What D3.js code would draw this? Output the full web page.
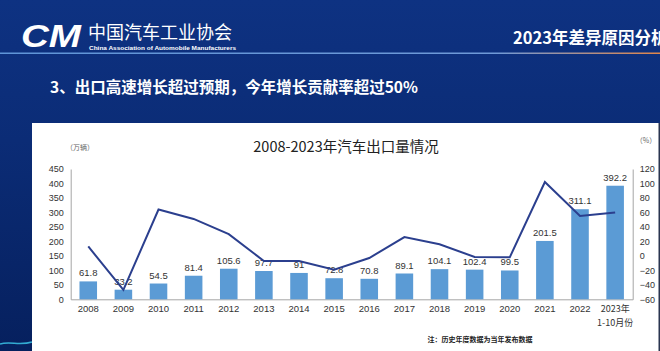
<!DOCTYPE html>
<html>
<head>
<meta charset="utf-8">
<script src="https://cdn.jsdelivr.net/npm/d3@7"></script>
<style>
  html, body { margin: 0; padding: 0; background: #0b2c74; }
  svg { display: block; }
</style>
</head>
<body>
<div id="chart"></div>
<script>
// Export volume (10k vehicles) and YoY growth (%), 2008 – 2023 Jan–Oct
const years   = ['2008','2009','2010','2011','2012','2013','2014','2015','2016','2017','2018','2019','2020','2021','2022','2023'];
const volume  = [61.8, 33.2, 54.5, 81.4, 105.6, 97.7, 91, 72.8, 70.8, 89.1, 104.1, 102.4, 99.5, 201.5, 311.1, 392.2];
const growth  = [13, -47, 64, 51, 30, -7, -7, -19, -3, 26, 16, -1.5, -2, 102, 55, 60];
const leftTicks  = [0, 50, 100, 150, 200, 250, 300, 350, 400, 450];
const rightTicks = [-60, -40, -20, 0, 20, 40, 60, 80, 100, 120];

const W = 660, H = 351;
const CJK = "'Noto Sans CJK SC', 'Noto Sans', sans-serif";
const SANS = "'Liberation Sans', Arial, sans-serif";
const BAR = '#5b9bd5';
const LINE = '#2b3f8e';
const AXIS = '#a6a6a6';

const svg = d3.select('#chart').append('svg')
  .attr('width', W).attr('height', H)
  .attr('viewBox', `0 0 ${W} ${H}`);

// --- slide background ---
const defs = svg.append('defs');
const bg = defs.append('linearGradient').attr('id', 'bg').attr('x1', 0).attr('y1', 0).attr('x2', 0).attr('y2', 1);
bg.append('stop').attr('offset', '0%').attr('stop-color', '#0e3282');
bg.append('stop').attr('offset', '40%').attr('stop-color', '#0b2c76');
bg.append('stop').attr('offset', '100%').attr('stop-color', '#06205e');
svg.append('rect').attr('width', W).attr('height', H).attr('fill', 'url(#bg)');

const rule = defs.append('linearGradient').attr('id', 'rule');
rule.append('stop').attr('offset', '0%').attr('stop-color', '#5f95d8');
rule.append('stop').attr('offset', '75%').attr('stop-color', '#6f9ad8');
rule.append('stop').attr('offset', '100%').attr('stop-color', '#e0864a');
svg.append('rect').attr('x', 0).attr('y', 52.5).attr('width', W).attr('height', 1.5).attr('fill', 'url(#rule)');

// cyan glow bottom-left
svg.append('path').attr('d', 'M0,344 C10,341 20,346 32,342').attr('stroke', '#3fd0f0')
  .attr('stroke-width', 1.5).attr('fill', 'none').attr('opacity', 0.8);

// header: logo + association name
svg.append('text').attr('x', 21).attr('y', 47)
  .attr('font-family', SANS).attr('font-size', 32).attr('font-weight', 700)
  .attr('font-style', 'italic').attr('fill', '#fff')
  .attr('textLength', 60).attr('lengthAdjust', 'spacingAndGlyphs')
  .text('CM');
svg.append('text').attr('x', 88).attr('y', 39)
  .attr('font-family', CJK).attr('font-size', 18).attr('fill', '#fff')
  .text('中国汽车工业协会');
svg.append('text').attr('x', 89).attr('y', 50)
  .attr('font-family', SANS).attr('font-size', 5.2).attr('font-weight', 700).attr('fill', '#fff')
  .attr('textLength', 147).attr('lengthAdjust', 'spacingAndGlyphs')
  .text('China Association of Automobile Manufacturers');
svg.append('text').attr('x', 513).attr('y', 44)
  .attr('font-family', CJK).attr('font-size', 16.5).attr('font-weight', 700).attr('fill', '#fff')
  .text('2023年差异原因分析');
svg.append('text').attr('x', 50).attr('y', 93)
  .attr('font-family', CJK).attr('font-size', 15.5).attr('font-weight', 700).attr('fill', '#fff')
  .text('3、出口高速增长超过预期，今年增长贡献率超过50%');

// --- white chart panel ---
svg.append('rect').attr('x', 32).attr('y', 123).attr('width', 627).attr('height', H - 123)
  .attr('fill', '#fff');
svg.append('rect').attr('x', 658.5).attr('y', 123).attr('width', 1.5).attr('height', H - 123)
  .attr('fill', '#2a3550');

svg.append('text').attr('x', 346).attr('y', 152).attr('text-anchor', 'middle')
  .attr('font-family', CJK).attr('font-size', 14.5).attr('fill', '#222')
  .text('2008-2023年汽车出口量情况');

// --- scales ---
const x = d3.scaleBand().domain(years).range([70.7, 632.7]).paddingInner(0.5).paddingOuter(0.25);
const y = d3.scaleLinear().domain([0, 450]).range([299.3, 169]);
const y2 = d3.scaleLinear().domain([-60, 120]).range([299.3, 169]);

// axes
const gl = svg.append('g').attr('transform', `translate(70.7,0)`)
  .call(d3.axisLeft(y).tickValues(leftTicks).tickSize(0).tickPadding(7));
const gr = svg.append('g').attr('transform', `translate(632.7,0)`)
  .call(d3.axisRight(y2).tickValues(rightTicks).tickSize(0).tickPadding(7));
const gb = svg.append('g').attr('transform', `translate(0,299.3)`)
  .call(d3.axisBottom(x).tickSize(0).tickPadding(6).tickFormat(d => d === '2023' ? '2023年' : d));
[gl, gr, gb].forEach(g => {
  g.select('.domain').attr('stroke', AXIS).attr('stroke-width', 1);
  g.selectAll('text').attr('font-family', SANS).attr('font-size', 9).attr('fill', '#333');
});
gb.selectAll('text').attr('font-size', 9.5);
gb.selectAll('.tick').filter(d => d === '2023').select('text')
  .attr('font-family', CJK).attr('font-size', 9);
gb.selectAll('.tick').filter(d => d === '2023').append('text')
  .attr('y', 20).attr('dy', '0.71em').attr('text-anchor', 'middle')
  .attr('font-family', CJK).attr('font-size', 9).attr('fill', '#333')
  .text('1-10月份');

svg.append('text').attr('x', 80).attr('y', 150).attr('text-anchor', 'middle')
  .attr('font-family', CJK).attr('font-size', 7).attr('fill', '#666').text('（万辆）');
svg.append('text').attr('x', 646).attr('y', 143).attr('text-anchor', 'middle')
  .attr('font-family', CJK).attr('font-size', 7).attr('fill', '#666').text('（%）');

// bars
const data = years.map((yr, i) => ({ yr, v: volume[i], g: growth[i] }));
svg.append('g').selectAll('rect').data(data).join('rect')
  .attr('x', d => x(d.yr)).attr('width', x.bandwidth())
  .attr('y', d => y(d.v)).attr('height', d => y(0) - y(d.v))
  .attr('fill', BAR);

svg.append('g').selectAll('text').data(data).join('text')
  .attr('x', d => x(d.yr) + x.bandwidth() / 2).attr('y', d => y(d.v) - 5)
  .attr('text-anchor', 'middle')
  .attr('font-family', SANS).attr('font-size', 9.5).attr('fill', '#333')
  .text(d => d.v);

// growth line
svg.append('path').datum(data)
  .attr('d', d3.line().x(d => x(d.yr) + x.bandwidth() / 2).y(d => y2(d.g)))
  .attr('fill', 'none').attr('stroke', LINE).attr('stroke-width', 2);

svg.append('text').attr('x', 480).attr('y', 342).attr('text-anchor', 'middle')
  .attr('font-family', CJK).attr('font-size', 7).attr('font-weight', 700).attr('fill', '#222')
  .text('注：历史年度数据为当年发布数据');
</script>
</body>
</html>
